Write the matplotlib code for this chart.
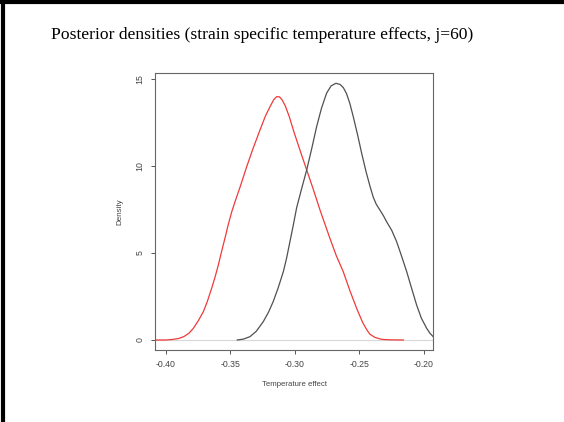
import matplotlib.pyplot as plt
from matplotlib.lines import Line2D

# red posterior density curve
red_x = [-0.4085, -0.400, -0.395, -0.390, -0.386, -0.382, -0.3788, -0.375, -0.371, -0.368,
         -0.3646, -0.362, -0.3594, -0.357, -0.3543, -0.352, -0.349, -0.346, -0.3425, -0.3374,
         -0.333, -0.3271, -0.323, -0.3194, -0.3165, -0.3142, -0.312, -0.310, -0.3075, -0.3045,
         -0.301, -0.2961, -0.2909, -0.286, -0.2806, -0.2765, -0.2729, -0.268, -0.2626, -0.2575,
         -0.2522, -0.2475, -0.244, -0.2419, -0.238, -0.234, -0.2315, -0.226, -0.216]
red_y = [0.0, 0.0, 0.03, 0.09, 0.2, 0.4, 0.67, 1.1, 1.63, 2.2,
         2.97, 3.6, 4.31, 5.05, 5.84, 6.55, 7.37, 8.05, 8.8, 9.96,
         10.9, 12.07, 12.85, 13.4, 13.8, 13.98, 13.97, 13.8, 13.45, 12.85,
         12.0, 10.9, 9.77, 8.7, 7.47, 6.6, 5.84, 4.85, 3.93, 2.85,
         1.82, 1.0, 0.55, 0.33, 0.15, 0.06, 0.03, 0.01, 0.0]

# black posterior density curve
blk_x = [-0.3447, -0.340, -0.3349, -0.330, -0.3246, -0.3205, -0.3169, -0.313, -0.309, -0.3065,
         -0.3039, -0.3013, -0.2987, -0.295, -0.2909, -0.287, -0.2832, -0.2795, -0.2755, -0.272,
         -0.2682, -0.265, -0.2625, -0.260, -0.2575, -0.2548, -0.2515, -0.2483, -0.245, -0.2419,
         -0.2393, -0.237, -0.234, -0.2315, -0.229, -0.225, -0.2212, -0.2175, -0.2134, -0.2095,
         -0.2057, -0.202, -0.1979, -0.1955, -0.1930]
blk_y = [0.0, 0.05, 0.19, 0.5, 1.05, 1.6, 2.2, 3.0, 3.93, 4.7,
         5.65, 6.6, 7.6, 8.65, 9.77, 11.0, 12.26, 13.3, 14.18, 14.6,
         14.75, 14.68, 14.5, 14.15, 13.6, 12.83, 11.8, 10.73, 9.7, 8.85,
         8.2, 7.8, 7.45, 7.15, 6.8, 6.3, 5.65, 4.85, 3.93, 2.95,
         2.01, 1.25, 0.67, 0.4, 0.2]

xticks = [-0.40, -0.35, -0.30, -0.25, -0.20]
xtick_labels = ["-0.40", "-0.35", "-0.30", "-0.25", "-0.20"]
yticks = [0, 5, 10, 15]

W, H = 564, 422
fig = plt.figure(figsize=(W / 100, H / 100), dpi=100)
ax = fig.add_axes([155 / W, 1 - 350 / H, (433 - 155) / W, (350 - 73) / H])

ax.axhline(0, color="#d8d8d8", lw=0.8, zorder=1)
ax.plot(red_x, red_y, color="#f03a3a", lw=0.9, zorder=2)
ax.plot(blk_x, blk_y, color="#505050", lw=0.9, zorder=2)

ax.set_xlim(-0.4085, -0.1930)
ax.set_ylim(-0.575, 15.34)
ax.set_xticks(xticks)
ax.set_xticklabels(xtick_labels)
ax.set_yticks(yticks)
ax.set_yticklabels([str(v) for v in yticks], rotation=90, va="center")

for lab in ax.get_xticklabels() + ax.get_yticklabels():
    lab.set_fontfamily("Liberation Sans")
    lab.set_fontsize(6.3)
    lab.set_color("#444444")
ax.tick_params(direction="out", length=3, width=0.7, color="#555555", pad=4.5)
for sp in ax.spines.values():
    sp.set_color("#666666")
    sp.set_linewidth(0.8)

ax.set_xlabel("Temperature effect", fontfamily="Liberation Sans", fontsize=5.6,
              color="#444444", labelpad=8.5)
ax.set_ylabel("Density", fontfamily="Liberation Sans", fontsize=5.8,
              color="#444444", labelpad=9)

fig.text(262.5 / W, 1 - 39 / H,
         "Posterior densities (strain specific temperature effects, j=60)",
         ha="center", va="baseline", fontfamily="Liberation Serif", fontsize=12.6)

# slide frame (top and left edges)
fig.add_artist(Line2D([0, 1], [1 - 2 / H, 1 - 2 / H], color="black", lw=3))
fig.add_artist(Line2D([3 / W, 3 / W], [0, 1], color="black", lw=3))

fig.savefig("out.png", dpi=100)
